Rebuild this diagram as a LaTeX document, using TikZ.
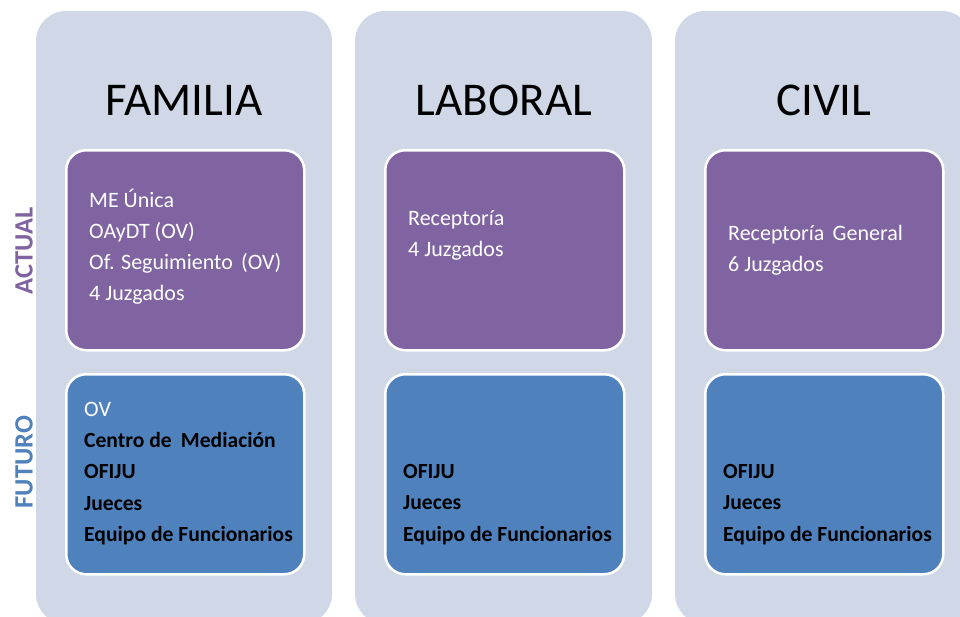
\documentclass[tikz,border=0pt]{standalone}
\usepackage{fontspec}
\setmainfont{Carlito}
\definecolor{colbg}{HTML}{D0D8E8}
\definecolor{actpurple}{HTML}{8064A2}
\definecolor{futblue}{HTML}{4F81BD}
\begin{document}
\begin{tikzpicture}[x=1pt,y=-1pt,
  column/.style={fill=colbg,rounded corners=30pt},
  actbox/.style={fill=actpurple,draw=white,line width=2.5pt,rounded corners=20pt},
  futbox/.style={fill=futblue,draw=white,line width=2.5pt,rounded corners=20pt},
  title/.style={font=\fontsize{47}{52}\selectfont,text=black,inner sep=0pt,anchor=base},
  boxtext/.style={font=\fontsize{22}{31}\selectfont,text=white,inner sep=0pt,anchor=base west,align=flush left,text width=230pt},
  boldtext/.style={font=\fontsize{21.6}{31.5}\selectfont\bfseries,text=black,inner sep=0pt,anchor=base west,align=flush left,text width=230pt},
  sidelabel/.style={font=\fontsize{26.5}{30}\selectfont\bfseries,rotate=90,inner sep=0pt}
]
\useasboundingbox (0,0) rectangle (960,616);
% columns
\path[column] (36,11) rectangle (332,624);
\path[column] (355,11) rectangle (652,624);
\path[column] (675,11) rectangle (972,624);
% titles
\node[title] (tfam) at (184,115) {FAMILIA};
\node[title] (tlab) at (504,115) {LABORAL};
\node[title] (tciv) at (824,115) {CIVIL};
% actual boxes
\node[actbox,minimum width=238pt,minimum height=200pt,anchor=north west] (a1) at (65,149) {};
\node[actbox,minimum width=239pt,minimum height=200pt,anchor=north west] (a2) at (384,149) {};
\node[actbox,minimum width=238pt,minimum height=200pt,anchor=north west] (a3) at (704,149) {};
% futuro boxes
\node[futbox,minimum width=238pt,minimum height=200pt,anchor=north west] (f1) at (65,373) {};
\node[futbox,minimum width=239pt,minimum height=200pt,anchor=north west] (f2) at (384,373) {};
\node[futbox,minimum width=238pt,minimum height=200pt,anchor=north west] (f3) at (704,373) {};
% texts actual
\node[boxtext] (x1) at (89,207) {ME Única\\OAyDT (OV)\\Of. Seguimiento\hspace{0.15em} (OV)\\4 Juzgados};
\node[boxtext] (x2) at (408,225) {Receptoría\\4 Juzgados};
\node[boxtext] (x3) at (728,240) {Receptoría\hspace{0.15em} General\\6 Juzgados};
% texts futuro
\node[boxtext] (y1ov) at (84,416) {OV};
\node[boldtext] (y1) at (84,447) {Centro de\hspace{0.2em} Mediación\\OFIJU\\Jueces\\Equipo de Funcionarios};
\node[boldtext] (y2) at (403,478) {OFIJU\\Jueces\\Equipo de Funcionarios};
\node[boldtext] (y3) at (723,478) {OFIJU\\Jueces\\Equipo de Funcionarios};
% side labels
\node[sidelabel,text=actpurple] (lact) at (24,251) {ACTUAL};
\node[sidelabel,text=futblue] (lfut) at (24,462) {FUTURO};
\end{tikzpicture}
\end{document}
